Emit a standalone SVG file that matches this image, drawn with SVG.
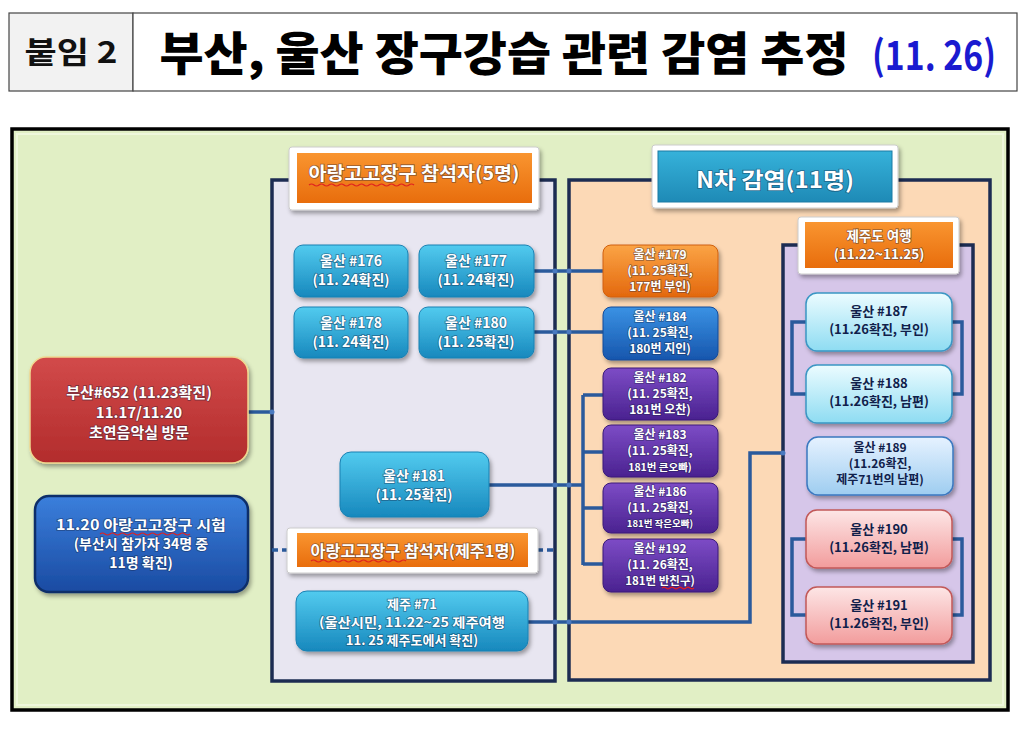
<svg xmlns="http://www.w3.org/2000/svg" width="1024" height="731" viewBox="0 0 1024 731">
<defs>
<style>
.t{font-family:"Noto Sans CJK KR","Noto Sans",sans-serif;font-weight:bold;text-anchor:middle}
.w{fill:#fff;stroke:rgba(20,30,60,0.45);stroke-width:1.6;paint-order:stroke}
.d{fill:#10204a}
.frame{stroke:#1c2c52;stroke-width:3.5}
.ln{fill:none;stroke:#2a5a9c;stroke-width:3.5}
.dash{fill:none;stroke:#2a5a9c;stroke-width:3.5;stroke-dasharray:6 4}
.wave{fill:none;stroke:#e02020;stroke-width:1.2}
</style>
<filter id="sh" x="-10%" y="-10%" width="125%" height="135%">
<feDropShadow dx="2" dy="3" stdDeviation="2" flood-color="#000" flood-opacity="0.35"/>
</filter>
<linearGradient id="gTeal" x1="0" y1="0" x2="0" y2="1"><stop offset="0" stop-color="#52cbef"/><stop offset="1" stop-color="#1788bd"/></linearGradient>
<linearGradient id="gOr" x1="0" y1="0" x2="0" y2="1"><stop offset="0" stop-color="#fba445"/><stop offset="1" stop-color="#e3680e"/></linearGradient>
<linearGradient id="gHdr" x1="0" y1="0" x2="0" y2="1"><stop offset="0" stop-color="#f99530"/><stop offset="1" stop-color="#e86d0c"/></linearGradient>
<linearGradient id="gBl" x1="0" y1="0" x2="0" y2="1"><stop offset="0" stop-color="#3a92e4"/><stop offset="1" stop-color="#1756ad"/></linearGradient>
<linearGradient id="gPu" x1="0" y1="0" x2="0" y2="1"><stop offset="0" stop-color="#7d4cc6"/><stop offset="1" stop-color="#4a2290"/></linearGradient>
<linearGradient id="gRed" x1="0" y1="0" x2="0" y2="1"><stop offset="0" stop-color="#d24a4a"/><stop offset="1" stop-color="#b22c2c"/></linearGradient>
<linearGradient id="gBig" x1="0" y1="0" x2="0" y2="1"><stop offset="0" stop-color="#3b7fdc"/><stop offset="1" stop-color="#1a4ba2"/></linearGradient>
<linearGradient id="gN" x1="0" y1="0" x2="0" y2="1"><stop offset="0" stop-color="#36b2da"/><stop offset="1" stop-color="#1e8ab6"/></linearGradient>
<linearGradient id="gCy" x1="0" y1="0" x2="0" y2="1"><stop offset="0" stop-color="#ecfcff"/><stop offset="1" stop-color="#8edcf2"/></linearGradient>
<linearGradient id="gLb" x1="0" y1="0" x2="0" y2="1"><stop offset="0" stop-color="#e6f2ff"/><stop offset="1" stop-color="#9ecdf0"/></linearGradient>
<linearGradient id="gPk" x1="0" y1="0" x2="0" y2="1"><stop offset="0" stop-color="#fde6e6"/><stop offset="1" stop-color="#f29c9c"/></linearGradient>
</defs>

<rect width="1024" height="731" fill="#fff"/>

<g id="title">
<rect x="9" y="13" width="124" height="78" fill="#f2f2f2" stroke="#444" stroke-width="1.2"/>
<rect x="133" y="13" width="884" height="78" fill="#fff" stroke="#444" stroke-width="1.2"/>
<text class="t" x="71" y="63" font-size="30" fill="#111" textLength="93" lengthAdjust="spacingAndGlyphs">붙임 2</text>
<text class="t" x="504" y="70" font-size="46" fill="#000" textLength="689" lengthAdjust="spacingAndGlyphs" style="font-weight:900">부산, 울산 장구강습 관련 감염 추정</text>
<text class="t" x="934" y="70" font-size="40" fill="#1a1ad0" textLength="124" lengthAdjust="spacingAndGlyphs">(11. 26)</text>
</g>

<g id="panel">
<rect x="12" y="129" width="996" height="581" fill="#e1efc5" stroke="#000" stroke-width="3.5"/>
<rect x="17" y="134" width="986" height="571" fill="none" stroke="#eef7dc" stroke-width="2"/>
</g>

<g id="col-left"><rect class="frame" x="272" y="180" width="283" height="501" fill="#e8e6f1"/></g>
<g id="col-nth"><rect class="frame" x="569" y="180" width="421" height="500" fill="#fcd9b6"/></g>
<g id="col-jeju"><rect class="frame" x="783" y="245" width="190" height="417" fill="#d6c6e9"/></g>

<g id="connectors">
<path class="ln" d="M248 412H272"/>
<path class="ln" d="M534 271H603"/>
<path class="ln" d="M534 332H603"/>
<path class="ln" d="M489 485H583"/>
<path class="ln" d="M583 395V565"/>
<path class="ln" d="M583 395H603M583 452H603M583 508H603M583 564H603"/>
<path class="ln" d="M528 622H750V453H783"/>
<path class="dash" d="M272 550H288"/>
<path class="dash" d="M537 550H555"/>
<path class="ln" d="M806 322H792V394H806M952 322H962V394H952"/>
<path class="ln" d="M806 539H792V615H806M952 539H962V615H952"/>
<g fill="#4a7ac0">
<circle cx="555" cy="271" r="2.5"/><circle cx="569" cy="271" r="2.5"/>
<circle cx="555" cy="332" r="2.5"/><circle cx="569" cy="332" r="2.5"/>
<circle cx="555" cy="485" r="2.5"/><circle cx="569" cy="485" r="2.5"/>
<circle cx="555" cy="622" r="2.5"/><circle cx="569" cy="622" r="2.5"/>
<circle cx="272" cy="412" r="2.5"/><circle cx="783" cy="453" r="2.5"/>
</g>
</g>

<g id="n652">
<rect x="30" y="357" width="218" height="106" rx="16" fill="url(#gRed)" stroke="#f0d890" stroke-width="1.5" filter="url(#sh)"/>
<text class="t w" font-size="15" x="139" y="398">부산#652 (11.23확진)</text>
<text class="t w" font-size="15" x="139" y="418">11.17/11.20</text>
<text class="t w" font-size="15" x="139" y="438">초연음악실 방문</text>
</g>

<g id="n1120">
<rect x="35" y="496" width="213" height="96" rx="14" fill="url(#gBig)" stroke="#0e2f6a" stroke-width="2.5" filter="url(#sh)"/>
<text class="t w" font-size="14" x="141" y="530" textLength="170" lengthAdjust="spacingAndGlyphs">11.20 아랑고고장구 시험</text>
<path class="wave" d="M100 534q2.5 -2 5 0t5 0t5 0t5 0t5 0t5 0t5 0t5 0t5 0t5 0t5 0t5 0t5 0t5 0t5 0t5 0t5 0t5 0"/>
<text class="t w" font-size="14" x="141" y="549">(부산시 참가자 34명 중</text>
<text class="t w" font-size="14" x="141" y="568">11명 확진)</text>
</g>

<g id="hdr5">
<rect x="289" y="147" width="250" height="63" rx="3" fill="#fff" stroke="#ccc" filter="url(#sh)"/>
<rect x="297" y="153" width="235" height="50" fill="url(#gHdr)"/>
<text class="t w" font-size="18" x="414" y="180" textLength="211" lengthAdjust="spacingAndGlyphs">아랑고고장구 참석자(5명)</text>
<path class="wave" d="M309 185q2.5 -2 5 0t5 0t5 0t5 0t5 0t5 0t5 0t5 0t5 0t5 0t5 0t5 0t5 0t5 0t5 0t5 0t5 0t5 0t5 0t5 0t5 0"/>
</g>

<g id="n176"><rect x="294" y="245" width="114" height="52" rx="9" fill="url(#gTeal)" stroke="#1a80b2" filter="url(#sh)"/>
<text class="t w" font-size="14" x="351" y="266">울산 #176</text><text class="t w" font-size="14" x="351" y="285">(11. 24확진)</text></g>
<g id="n177"><rect x="419" y="245" width="115" height="52" rx="9" fill="url(#gTeal)" stroke="#1a80b2" filter="url(#sh)"/>
<text class="t w" font-size="14" x="476" y="266">울산 #177</text><text class="t w" font-size="14" x="476" y="285">(11. 24확진)</text></g>
<g id="n178"><rect x="294" y="307" width="114" height="51" rx="9" fill="url(#gTeal)" stroke="#1a80b2" filter="url(#sh)"/>
<text class="t w" font-size="14" x="351" y="328">울산 #178</text><text class="t w" font-size="14" x="351" y="347">(11. 24확진)</text></g>
<g id="n180"><rect x="419" y="307" width="115" height="51" rx="9" fill="url(#gTeal)" stroke="#1a80b2" filter="url(#sh)"/>
<text class="t w" font-size="14" x="476" y="328">울산 #180</text><text class="t w" font-size="14" x="476" y="347">(11. 25확진)</text></g>
<g id="n181"><rect x="340" y="452" width="149" height="65" rx="11" fill="url(#gTeal)" stroke="#1a80b2" filter="url(#sh)"/>
<text class="t w" font-size="14" x="414" y="481">울산 #181</text><text class="t w" font-size="14" x="414" y="500">(11. 25확진)</text></g>

<g id="hdrJ1">
<rect x="287" y="528" width="251" height="45" rx="3" fill="#fff" stroke="#ccc" filter="url(#sh)"/>
<rect x="297" y="533" width="231" height="34" fill="url(#gHdr)"/>
<text class="t w" font-size="16" x="413" y="557" textLength="205" lengthAdjust="spacingAndGlyphs">아랑고고장구 참석자(제주1명)</text>
<path class="wave" d="M311 561q2.5 -2 5 0t5 0t5 0t5 0t5 0t5 0t5 0t5 0t5 0t5 0t5 0t5 0t5 0t5 0t5 0t5 0t5 0t5 0t5 0"/>
</g>

<g id="j71"><rect x="296" y="591" width="232" height="60" rx="11" fill="url(#gTeal)" stroke="#1a80b2" filter="url(#sh)"/>
<text class="t w" font-size="13" x="412" y="609">제주 #71</text>
<text class="t w" font-size="13" x="412" y="627" textLength="186" lengthAdjust="spacingAndGlyphs">(울산시민, 11.22~25 제주여행</text>
<text class="t w" font-size="13" x="412" y="645">11. 25 제주도에서 확진)</text></g>

<g id="hdrN">
<rect x="652" y="145" width="246" height="63" rx="3" fill="#fff" stroke="#ccc" filter="url(#sh)"/>
<rect x="658" y="151" width="234" height="51" fill="url(#gN)" stroke="#1a7aa4"/>
<text class="t w" font-size="22" x="775" y="188" textLength="158" lengthAdjust="spacingAndGlyphs">N차 감염(11명)</text>
</g>

<g id="n179"><rect x="603" y="245" width="115" height="52" rx="8" fill="url(#gOr)" stroke="#d06010" filter="url(#sh)"/>
<text class="t w" font-size="12" x="660" y="259">울산 #179</text><text class="t w" font-size="12" x="660" y="275">(11. 25확진,</text><text class="t w" font-size="12" x="660" y="291">177번 부인)</text></g>
<g id="n184"><rect x="603" y="307" width="115" height="53" rx="8" fill="url(#gBl)" stroke="#134a98" filter="url(#sh)"/>
<text class="t w" font-size="12" x="660" y="321">울산 #184</text><text class="t w" font-size="12" x="660" y="337">(11. 25확진,</text><text class="t w" font-size="12" x="660" y="353">180번 지인)</text></g>
<g id="n182"><rect x="603" y="368" width="115" height="52" rx="8" fill="url(#gPu)" stroke="#3a1a78" filter="url(#sh)"/>
<text class="t w" font-size="12" x="660" y="382">울산 #182</text><text class="t w" font-size="12" x="660" y="398">(11. 25확진,</text><text class="t w" font-size="12" x="660" y="414">181번 오찬)</text></g>
<g id="n183"><rect x="603" y="425" width="115" height="52" rx="8" fill="url(#gPu)" stroke="#3a1a78" filter="url(#sh)"/>
<text class="t w" font-size="12" x="660" y="439">울산 #183</text><text class="t w" font-size="12" x="660" y="455">(11. 25확진,</text><text class="t w" font-size="10.5" x="660" y="471">181번 큰오빠)</text></g>
<g id="n186"><rect x="603" y="483" width="115" height="50" rx="8" fill="url(#gPu)" stroke="#3a1a78" filter="url(#sh)"/>
<text class="t w" font-size="12" x="660" y="496">울산 #186</text><text class="t w" font-size="12" x="660" y="512">(11. 25확진,</text><text class="t w" font-size="9.5" x="660" y="527">181번 작은오빠)</text></g>
<g id="n192"><rect x="603" y="539" width="115" height="53" rx="8" fill="url(#gPu)" stroke="#3a1a78" filter="url(#sh)"/>
<text class="t w" font-size="12" x="660" y="553">울산 #192</text><text class="t w" font-size="12" x="660" y="569">(11. 26확진,</text><text class="t w" font-size="11.5" x="660" y="585">181번  반친구)</text>
<path class="wave" d="M662 588q2 -1.6 4 0t4 0t4 0t4 0t4 0t4 0t4 0t4 0"/></g>

<g id="hdrJ2">
<rect x="798" y="217" width="161" height="57" rx="3" fill="#fff" stroke="#ccc" filter="url(#sh)"/>
<rect x="805" y="222" width="148" height="46" fill="url(#gHdr)"/>
<text class="t w" font-size="13.5" x="879" y="241">제주도 여행</text>
<text class="t w" font-size="13.5" x="879" y="259">(11.22~11.25)</text>
</g>

<g id="n187"><rect x="806" y="293" width="146" height="58" rx="11" fill="url(#gCy)" stroke="#3a96c4" stroke-width="1.5" filter="url(#sh)"/>
<text class="t d" font-size="13" x="879" y="316">울산 #187</text><text class="t d" font-size="13" x="879" y="334">(11.26확진, 부인)</text></g>
<g id="n188"><rect x="806" y="365" width="146" height="58" rx="11" fill="url(#gCy)" stroke="#3a96c4" stroke-width="1.5" filter="url(#sh)"/>
<text class="t d" font-size="13" x="879" y="388">울산 #188</text><text class="t d" font-size="13" x="879" y="406">(11.26확진, 남편)</text></g>
<g id="n189"><rect x="807" y="437" width="146" height="58" rx="11" fill="url(#gLb)" stroke="#3a78c0" stroke-width="1.5" filter="url(#sh)"/>
<text class="t d" font-size="12" x="880" y="452">울산 #189</text><text class="t d" font-size="12" x="880" y="468">(11.26확진,</text><text class="t d" font-size="12" x="880" y="484">제주71번의 남편)</text></g>
<g id="n190"><rect x="806" y="510" width="146" height="58" rx="11" fill="url(#gPk)" stroke="#c25858" stroke-width="1.5" filter="url(#sh)"/>
<text class="t d" font-size="13" x="879" y="534">울산 #190</text><text class="t d" font-size="13" x="879" y="552">(11.26확진, 남편)</text></g>
<g id="n191"><rect x="806" y="587" width="146" height="57" rx="11" fill="url(#gPk)" stroke="#c25858" stroke-width="1.5" filter="url(#sh)"/>
<text class="t d" font-size="13" x="879" y="610">울산 #191</text><text class="t d" font-size="13" x="879" y="628">(11.26확진, 부인)</text></g>
</svg>
